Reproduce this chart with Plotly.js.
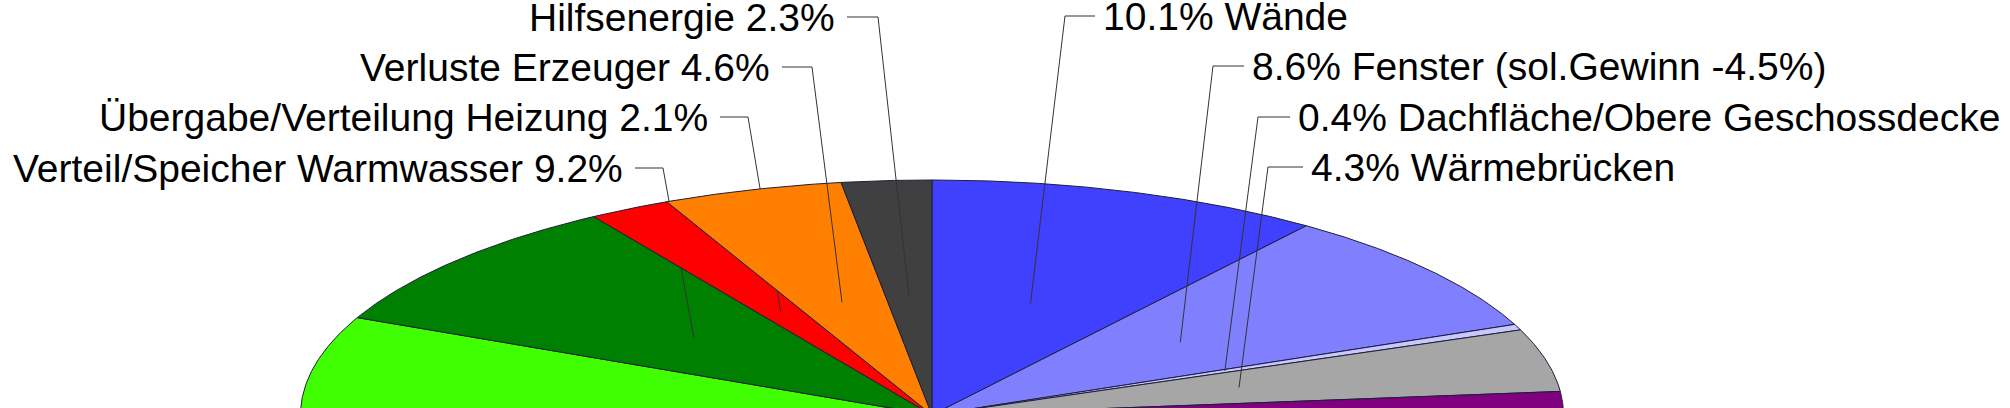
<!DOCTYPE html>
<html>
<head>
<meta charset="utf-8">
<script src="https://cdn.plot.ly/plotly-3.0.1.min.js"></script>
<style>
  html, body { margin: 0; padding: 0; background: #fff; }
  #chart { width: 2010px; height: 408px; }
</style>
</head>
<body>
<div id="chart"></div>
<script>
// ---- data (clockwise from 12 o'clock) ----
const categories = [
  'Wände',
  'Fenster (sol.Gewinn -4.5%)',
  'Dachfläche/Obere Geschossdecke',
  'Wärmebrücken',
  'Kellerdecke/Fußboden',
  'Lüftung',
  'Warmwasser',
  'Verteil/Speicher Warmwasser',
  'Übergabe/Verteilung Heizung',
  'Verluste Erzeuger',
  'Hilfsenergie'
];
const values = [10.1, 8.6, 0.4, 4.3, 8.0, 30.0, 20.4, 9.2, 2.1, 4.6, 2.3];
const colors = ['#4040FF', '#8080FF', '#C8C8FF', '#A6A6A6', '#800080', '#00C0C0',
                '#40FF00', '#008000', '#FF0000', '#FF8000', '#404040'];

// which slices carry a visible label, and on which side
const labelSide = ['right', 'right', 'right', 'right', null, null, null, 'left', 'left', 'left', 'left'];

// ---- layout constants (pixels) ----
const W = 2010, H = 408;
const CX = 932, CY = 415, RX = 631.5, RY = 235;
const ANCHOR_R = 0.5;
// label text anchor x, leader-line y and bend x per labelled slice
const labelPos = {
  0:  {x: 1103, y: 16,  bend: 1065},
  1:  {x: 1252, y: 66,  bend: 1213},
  2:  {x: 1298, y: 117, bend: 1258},
  3:  {x: 1311, y: 167, bend: 1268},
  7:  {x: 623,  y: 168, bend: 663},
  8:  {x: 708,  y: 117, bend: 748},
  9:  {x: 770,  y: 67,  bend: 812},
  10: {x: 835,  y: 17,  bend: 878}
};

const total = values.reduce((s, v) => s + v, 0);
const pt = (ang, r) => [CX + RX * r * Math.sin(ang), CY - RY * r * Math.cos(ang)];

const traces = [];
const annotations = [];
let cum = 0;
values.forEach((v, i) => {
  const a0 = cum / total * 2 * Math.PI;
  cum += v;
  const a1 = cum / total * 2 * Math.PI;
  const xs = [CX], ys = [CY];
  const n = Math.max(2, Math.ceil((a1 - a0) / (Math.PI / 720)));
  for (let k = 0; k <= n; k++) {
    const p = pt(a0 + (a1 - a0) * k / n, 1);
    xs.push(p[0]); ys.push(p[1]);
  }
  xs.push(CX); ys.push(CY);
  traces.push({
    type: 'scatter', mode: 'lines', x: xs, y: ys, fill: 'toself',
    fillcolor: colors[i], line: {color: '#1e1e3a', width: 1},
    hoverinfo: 'skip', showlegend: false, name: categories[i], cliponaxis: true
  });

  const side = labelSide[i];
  if (side) {
    const lp = labelPos[i];
    const anc = pt((a0 + a1) / 2, ANCHOR_R);
    const pct = v.toFixed(1) + '%';
    const text = side === 'right' ? pct + ' ' + categories[i] : categories[i] + ' ' + pct;
    const gap = side === 'right' ? -8 : 12;
    traces.push({
      type: 'scatter', mode: 'lines',
      x: [lp.x + gap, lp.bend, anc[0]], y: [lp.y, lp.y, anc[1]],
      line: {color: '#333333', width: 1}, hoverinfo: 'skip', showlegend: false
    });
    annotations.push({
      x: lp.x, y: lp.y, xref: 'x', yref: 'y', text: text, showarrow: false,
      xanchor: side === 'right' ? 'left' : 'right', yanchor: 'middle',
      borderpad: 0, borderwidth: 0,
      font: {family: 'Liberation Sans, Arial, sans-serif', size: 39, color: '#000'}
    });
  }
});

const layout = {
  width: W, height: H,
  margin: {l: 0, r: 0, t: 0, b: 0, pad: 0},
  paper_bgcolor: '#fff', plot_bgcolor: '#fff',
  xaxis: {range: [0, W], visible: false, fixedrange: true},
  yaxis: {range: [H, 0], visible: false, fixedrange: true},
  annotations: annotations,
  showlegend: false
};

Plotly.newPlot('chart', traces, layout, {displayModeBar: false, staticPlot: true});
</script>
</body>
</html>
